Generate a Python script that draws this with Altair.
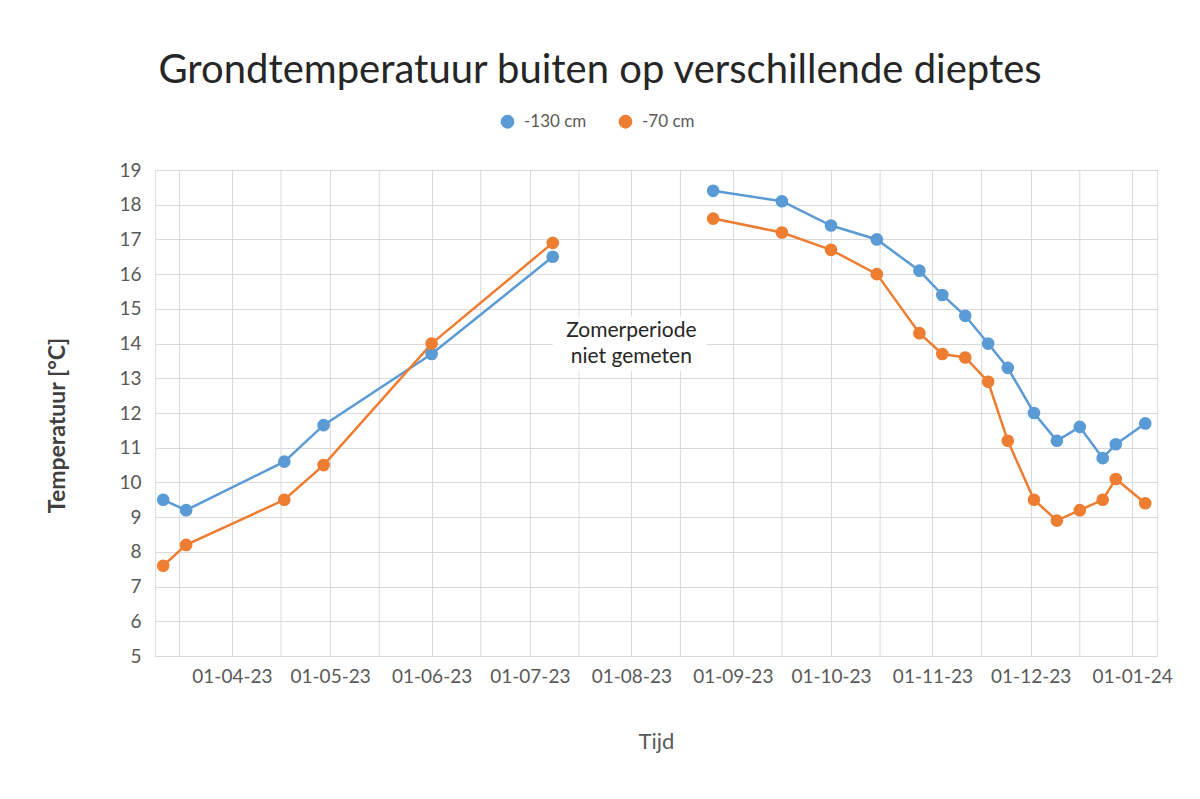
import altair as alt
import pandas as pd

# ---- data ----
dates = ["2023-03-11", "2023-03-18", "2023-04-17", "2023-04-29", "2023-06-01", "2023-07-08",
         "2023-08-26", "2023-09-16", "2023-10-01", "2023-10-15", "2023-10-28", "2023-11-04",
         "2023-11-11", "2023-11-18", "2023-11-24", "2023-12-02", "2023-12-09", "2023-12-16",
         "2023-12-23", "2023-12-27", "2024-01-05"]
periods = ["voorjaar"] * 6 + ["najaar"] * 15
temp_130 = [9.5, 9.2, 10.6, 11.65, 13.7, 16.5, 18.4, 18.1, 17.4, 17.0, 16.1, 15.4,
            14.8, 14.0, 13.3, 12.0, 11.2, 11.6, 10.7, 11.1, 11.7]
temp_70 = [7.6, 8.2, 9.5, 10.5, 14.0, 16.9, 17.6, 17.2, 16.7, 16.0, 14.3, 13.7,
           13.6, 12.9, 11.2, 9.5, 8.9, 9.2, 9.5, 10.1, 9.4]
series_names = ["-130 cm", "-70 cm"]
series_colors = ["#5B9BD5", "#ED7D31"]

y_ticks = list(range(5, 20))
month_ticks = [(2023, m) for m in range(4, 13)] + [(2024, 1)]
minor_grid = ["2023-03-16", "2023-04-16", "2023-05-16", "2023-06-16", "2023-07-16",
              "2023-08-16", "2023-09-16", "2023-10-16", "2023-11-16", "2023-12-16"]

note_lines = ["Zomerperiode", "niet gemeten"]
note_date = "2023-08-01"
note_values = [14.36, 13.62]
note_box = {"start": "2023-07-08", "end": "2023-08-24", "low": 13.2, "high": 14.78}

title = "Grondtemperatuur buiten op verschillende dieptes"

# ---- tables ----
rows = []
for d, p, a, b in zip(dates, periods, temp_130, temp_70):
    rows.append({"datum": d + "T00:00:00", "periode": p, "reeks": series_names[0], "temp": a})
    rows.append({"datum": d + "T00:00:00", "periode": p, "reeks": series_names[1], "temp": b})
df = pd.DataFrame(rows)
df_minor = pd.DataFrame({"datum": [d + "T00:00:00" for d in minor_grid]})
df_note = pd.DataFrame({"datum": [note_date + "T00:00:00"] * 2, "temp": note_values, "tekst": note_lines})
df_box = pd.DataFrame({"datum": [note_box["start"] + "T00:00:00"], "eind": [note_box["end"] + "T00:00:00"],
                       "temp": [note_box["low"]], "hoog": [note_box["high"]]})

FONT = "Lato"
GRID = "#D9D9D9"
TXT = "#595959"

x_scale = alt.Scale(domain=[alt.DateTime(year=2023, month=3, date=8, hours=12),
                            alt.DateTime(year=2024, month=1, date=8, hours=14)])
y_scale = alt.Scale(domain=[5, 19], nice=False, zero=False)

x_axis = alt.Axis(values=[alt.DateTime(year=y, month=m, date=1) for y, m in month_ticks],
                  format="%d-%m-%y", grid=True, gridColor=GRID, domain=False, ticks=False,
                  labelFontSize=19, labelColor=TXT, labelFont=FONT, labelPadding=11,
                  labelOverlap=False,
                  title="Tijd", titleFont=FONT, titleFontSize=22, titleFontWeight="normal",
                  titleColor=TXT, titleY=85, titleBaseline="middle")
y_axis = alt.Axis(values=y_ticks, grid=True, gridColor=GRID, domain=False, ticks=False,
                  labelFontSize=19, labelColor=TXT, labelFont=FONT, labelPadding=14,
                  labelOverlap=False,
                  title="Temperatuur [°C]", titleFont=FONT, titleFontSize=23,
                  titleFontWeight="bold", titleColor="#404040",
                  titleX=-98, titleY=255, titleBaseline="middle", titleAlign="center")

X = alt.X("datum:T", scale=x_scale, axis=x_axis)
Y = alt.Y("temp:Q", scale=y_scale, axis=y_axis)

minor = alt.Chart(df_minor).mark_rule(color=GRID, strokeWidth=1).encode(x=X)

color = alt.Color("reeks:N", sort=series_names,
                  scale=alt.Scale(domain=series_names, range=series_colors),
                  legend=alt.Legend(orient="none", legendX=344, legendY=-57, direction="horizontal",
                                    title=None, symbolType="circle", symbolSize=190,
                                    symbolStrokeWidth=0, labelFontSize=17, labelFont=FONT,
                                    labelColor=TXT, columnPadding=30, labelOffset=8))

base = alt.Chart(df).encode(x=X, y=Y, color=color, detail="periode:N")
lines = base.mark_line(strokeWidth=2.5)
points = base.mark_circle(size=160, opacity=1)

box = alt.Chart(df_box).mark_rect(color="white").encode(
    x=X, x2="eind:T", y=Y, y2="hoog:Q"
)
note = alt.Chart(df_note).mark_text(font=FONT, fontSize=21, color="#262626",
                                    align="center", baseline="middle").encode(
    x=X, y=Y, text="tekst:N"
)

chart = alt.layer(minor, lines, points, box, note).properties(
    width=1002, height=486,
    autosize=alt.AutoSizeParams(type="none"),
    padding={"left": 155, "top": 170, "right": 43, "bottom": 143},
    title=alt.TitleParams(title, fontSize=40, font=FONT, fontWeight="normal",
                          color="#262626", anchor="middle", dx=-56, offset=22),
).configure_view(stroke=None).configure(background="white")

chart.save("out.html", embed_options={"renderer": "svg", "actions": False})
